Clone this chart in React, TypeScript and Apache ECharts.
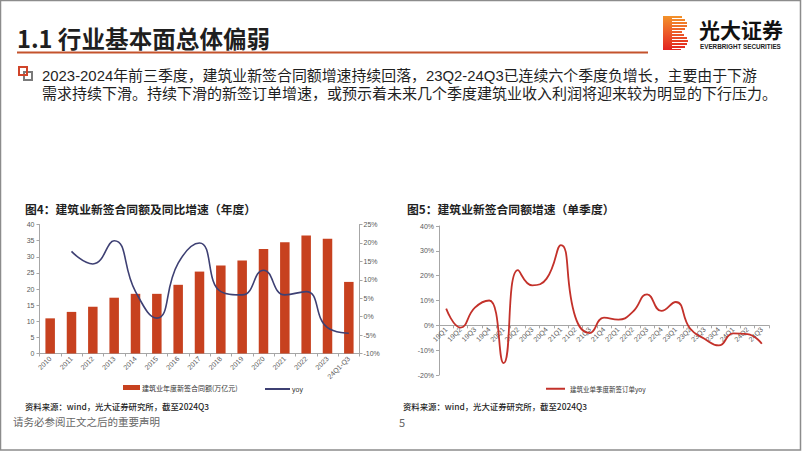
import React, { useEffect, useRef } from "react";
import * as echarts from "echarts";

const years = ["2010", "2011", "2012", "2013", "2014", "2015", "2016", "2017", "2018", "2019", "2020", "2021", "2022", "2023", "24Q1-Q3"];
const annualValue = [10.9, 12.9, 14.5, 17.3, 18.5, 18.5, 21.3, 25.4, 27.3, 28.8, 32.4, 34.5, 36.6, 35.6, 22.2];
const annualYoy = [null, 17.7, 14.3, 20.6, 6.8, -0.4, 14.5, 20.0, 6.8, 5.9, 12.6, 5.9, 6.8, -3.0, -4.5];
const quarters = ["19Q1", "19Q2", "19Q3", "19Q4", "20Q1", "20Q2", "20Q3", "20Q4", "21Q1", "21Q2", "21Q3", "21Q4", "22Q1", "22Q2", "22Q3", "22Q4", "23Q1", "23Q2", "23Q3", "23Q4", "24Q1", "24Q2", "24Q3"];
const quarterYoy = [6.7, -0.9, 7.1, 10.0, -15.2, 22.2, 16.1, 18.8, 32.3, 3.4, -3.1, 3.1, 2.3, 5.4, 12.5, 5.8, 9.4, -1.3, -5.4, -8.1, -3.2, -3.5, -7.4];

const barName = "建筑业年度新签合同额(万亿元)";
const yoyName = "yoy";
const qName = "建筑业单季度新签订单yoy";

const heading = "1.1 行业基本面总体偏弱";
const para1 = "2023-2024年前三季度，建筑业新签合同额增速持续回落，23Q2-24Q3已连续六个季度负增长，主要由于下游";
const para2 = "需求持续下滑。持续下滑的新签订单增速，或预示着未来几个季度建筑业收入利润将迎来较为明显的下行压力。";
const title4 = "图4：建筑业新签合同额及同比增速（年度）";
const title5 = "图5：建筑业新签合同额增速（单季度）";
const source = "资料来源：wind，光大证券研究所，截至2024Q3";
const footer = "请务必参阅正文之后的重要声明";

const CJK = '"Noto Sans CJK SC", "Noto Sans", sans-serif';
const LAT = '"Liberation Sans", Arial, sans-serif';
const MIX = '"Liberation Sans", "Noto Sans CJK SC", sans-serif';

function logoPath() {
  const rows: [number, number, number][] = [
    [0, 2, 19], [3, 2, 22], [6, 2, 24], [9, 2, 24], [12, 2, 22], [15, 2, 19],
    [18, 2, 21], [21, 2, 24], [24, 2, 25], [27, 2, 24], [30, 2, 22], [33, 1, 18],
  ];
  let d = "M0 0H9V34H0Z";
  rows.forEach(([y, h, w]) => {
    d += `M9 ${y}H${w}V${y + h}H9Z`;
  });
  return d;
}

export default function App() {
  const ref = useRef<HTMLDivElement>(null);
  useEffect(() => {
    if (!ref.current) return;
    echarts.graphic.registerShape("logo", echarts.graphic.extendPath(logoPath(), {}) as any);
    const chart = echarts.init(ref.current, null, { renderer: "svg" });
    const axisLineStyle = { color: "#A6A6A6", width: 1 };
    const labelStyle = { color: "#595959", fontSize: 7, fontFamily: LAT };
    const text = (x: number, y: number, t: string, font: string, fill: string, extra: any = {}) => ({
      type: "text",
      x,
      y,
      style: { text: t, font, fill, textAlign: "left", textVerticalAlign: "middle", ...extra },
    });
    const rTop = 226;
    const rHeight = 149;
    const rMin = -20;
    const rMax = 40;
    const zeroOffset = -(rHeight * (0 - rMin)) / (rMax - rMin);
    const option: any = {
      animation: false,
      backgroundColor: "#fff",
      grid: [
        { left: 39.5, top: 224.5, width: 320, height: 129, containLabel: false },
        { left: 439, top: rTop, width: 330, height: rHeight, containLabel: false },
      ],
      xAxis: [
        {
          type: "category",
          gridIndex: 0,
          data: years,
          axisLine: { lineStyle: axisLineStyle },
          axisTick: { show: true, length: 3, lineStyle: axisLineStyle },
          axisLabel: { ...labelStyle, rotate: 45, margin: 4, interval: 0 },
        },
        {
          type: "category",
          gridIndex: 1,
          data: quarters,
          position: "bottom",
          offset: zeroOffset,
          axisLine: { onZero: false, lineStyle: axisLineStyle },
          axisTick: { show: true, length: 3, lineStyle: axisLineStyle },
          axisLabel: { ...labelStyle, rotate: 45, margin: 3, interval: 0 },
        },
      ],
      yAxis: [
        {
          type: "value",
          gridIndex: 0,
          min: 0,
          max: 40,
          interval: 5,
          axisLine: { show: true, lineStyle: axisLineStyle },
          axisTick: { show: true, length: 3, lineStyle: axisLineStyle },
          splitLine: { show: false },
          axisLabel: { ...labelStyle, margin: 5 },
        },
        {
          type: "value",
          gridIndex: 0,
          position: "right",
          min: -10,
          max: 25,
          interval: 5,
          axisLine: { show: true, lineStyle: axisLineStyle },
          axisTick: { show: true, length: 3, lineStyle: axisLineStyle },
          splitLine: { show: false },
          axisLabel: { ...labelStyle, margin: 4, formatter: "{value}%" },
        },
        {
          type: "value",
          gridIndex: 1,
          min: rMin,
          max: rMax,
          interval: 10,
          axisLine: { show: true, lineStyle: axisLineStyle },
          axisTick: { show: true, length: 3, lineStyle: axisLineStyle },
          splitLine: { show: false },
          axisLabel: { ...labelStyle, margin: 5, formatter: "{value}%" },
        },
      ],
      legend: [
        {
          data: [{ name: barName, icon: "rect" }],
          left: 123,
          top: 384,
          padding: 0,
          itemWidth: 17,
          itemHeight: 5,
          itemGap: 2,
          textStyle: { fontSize: 7, color: "#333", fontFamily: CJK, padding: [0, 0, 0, -3] },
        },
        {
          data: [{ name: yoyName, icon: "rect" }],
          left: 265,
          top: 385.5,
          padding: 0,
          itemWidth: 25,
          itemHeight: 2,
          textStyle: { fontSize: 7, color: "#333", fontFamily: LAT, padding: [0, 0, 0, -3] },
        },
        {
          data: [{ name: qName, icon: "rect" }],
          left: 546,
          top: 385.5,
          padding: 0,
          itemWidth: 19,
          itemHeight: 2,
          textStyle: { fontSize: 6.5, color: "#333", fontFamily: CJK },
        },
      ],
      series: [
        {
          name: barName,
          type: "bar",
          xAxisIndex: 0,
          yAxisIndex: 0,
          data: annualValue,
          barWidth: 9.5,
          itemStyle: { color: "#C7411F" },
        },
        {
          name: yoyName,
          type: "line",
          xAxisIndex: 0,
          yAxisIndex: 1,
          data: annualYoy,
          smooth: true,
          symbol: "none",
          lineStyle: { color: "#3E4073", width: 1.6 },
          itemStyle: { color: "#3E4073" },
        },
        {
          name: qName,
          type: "line",
          xAxisIndex: 1,
          yAxisIndex: 2,
          data: quarterYoy,
          smooth: true,
          symbol: "none",
          lineStyle: { color: "#C3312A", width: 1.8 },
          itemStyle: { color: "#C3312A" },
        },
      ],
      graphic: [
        {
          type: "rect",
          shape: { x: 0.5, y: 0.5, width: 800, height: 449.5 },
          style: { fill: "none", stroke: "#8C8C8C", lineWidth: 1.5 },
          silent: true,
        },
        text(17, 38, heading, `700 23.6px ${CJK}`, "#1F1F1F"),
        {
          type: "rect",
          shape: { x: 17, y: 51.5, width: 631, height: 2 },
          style: { fill: "#C4532C" },
        },
        {
          type: "logo",
          x: 663,
          y: 16,
          scaleX: 1,
          scaleY: 1,
          style: {
            fill: new echarts.graphic.LinearGradient(0, 0, 0, 1, [
              { offset: 0, color: "#F3922A" },
              { offset: 0.5, color: "#EC5A28" },
              { offset: 1, color: "#E2231F" },
            ]),
          },
        },
        text(699, 29, "光大证券", `700 21px ${CJK}`, "#111"),
        text(700, 46, "EVERBRIGHT SECURITIES", `700 6.3px ${LAT}`, "#222"),
        {
          type: "rect",
          shape: { x: 24, y: 72, width: 8, height: 8 },
          style: { fill: "none", stroke: "#7A7A7A", lineWidth: 2 },
        },
        {
          type: "rect",
          shape: { x: 19, y: 67, width: 8, height: 8 },
          style: { fill: "none", stroke: "#D0452A", lineWidth: 2 },
        },
        text(42, 76, para1, `14.9px ${MIX}`, "#1F1F1F"),
        text(42, 93, para2, `15px ${MIX}`, "#1F1F1F"),
        text(25, 208, title4, `700 11.8px ${CJK}`, "#1F1F1F"),
        text(407, 208, title5, `700 11.8px ${CJK}`, "#1F1F1F"),
        text(25, 406, source, `500 8.4px ${CJK}`, "#1F1F1F"),
        text(403, 406, source, `500 8.4px ${CJK}`, "#1F1F1F"),
        text(13, 421, footer, `10.5px ${CJK}`, "#666"),
        text(399, 422, "5", `11px ${CJK}`, "#666"),
      ],
    };
    chart.setOption(option);
    return () => chart.dispose();
  }, []);
  return (
    <div
      ref={ref}
      style={{ position: "absolute", left: 0, top: 0, width: 802, height: 451, background: "#fff" }}
    />
  );
}
